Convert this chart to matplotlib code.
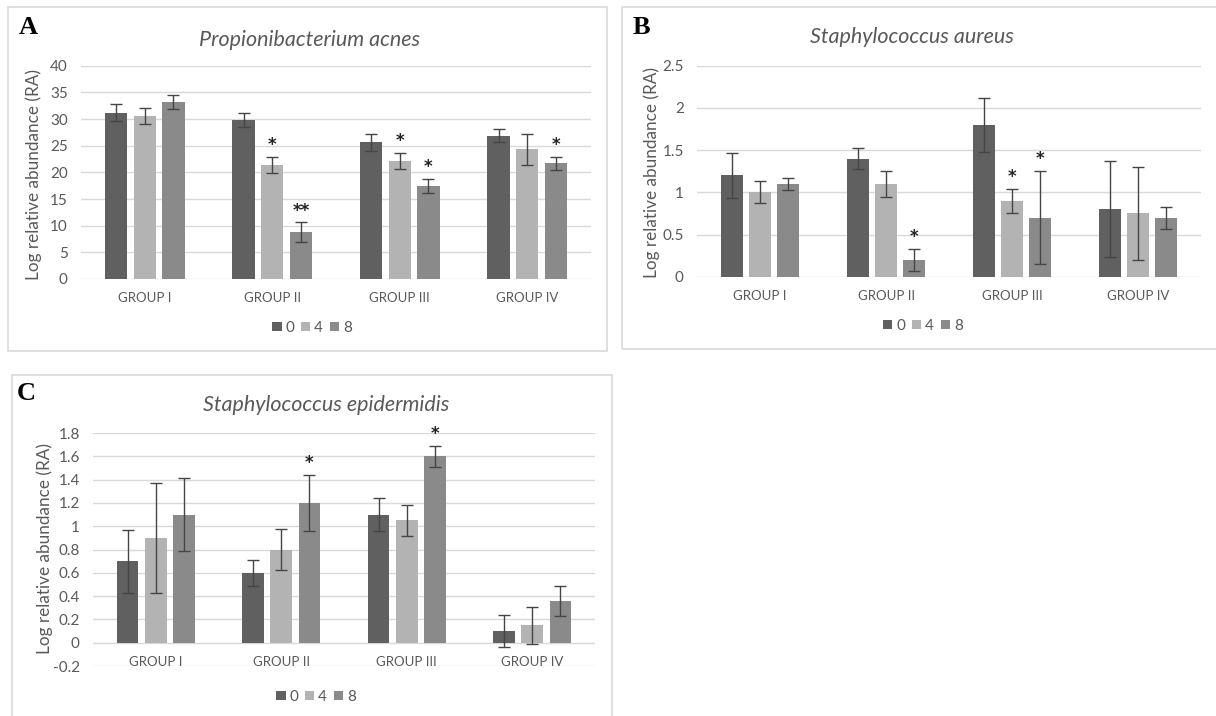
#!/usr/bin/env python3
# -*- coding: utf-8 -*-

import matplotlib
matplotlib.use('Agg')
import matplotlib.pyplot as plt
from matplotlib.patches import Rectangle, Patch
import numpy as np

plt.rcParams['font.family'] = ['Lato', 'DejaVu Sans']

W, H = 1216, 716

groups = ['GROUP I', 'GROUP II', 'GROUP III', 'GROUP IV']
weeks = ['0', '4', '8']

# Propionibacterium acnes, one row per week (0, 4, 8)
acnes_mean = [[31.2, 29.8, 25.6, 26.9],
              [30.6, 21.4, 22.2, 24.3],
              [33.2, 8.8, 17.5, 21.7]]
acnes_err = [[1.6, 1.3, 1.6, 1.2],
             [1.5, 1.5, 1.5, 2.9],
             [1.3, 1.8, 1.3, 1.2]]
acnes_sig = [['', '', '', ''],
             ['', '*', '*', ''],
             ['', '**', '*', '*']]

# Staphylococcus aureus
aureus_mean = [[1.2, 1.4, 1.8, 0.8],
               [1.0, 1.1, 0.9, 0.75],
               [1.1, 0.2, 0.7, 0.7]]
aureus_err = [[0.27, 0.12, 0.32, 0.57],
              [0.13, 0.15, 0.14, 0.55],
              [0.07, 0.13, 0.55, 0.13]]
aureus_sig = [['', '', '', ''],
              ['', '', '*', ''],
              ['', '*', '*', '']]

# Staphylococcus epidermidis
epi_mean = [[0.7, 0.6, 1.1, 0.1],
            [0.9, 0.8, 1.05, 0.15],
            [1.1, 1.2, 1.6, 0.36]]
epi_err = [[0.27, 0.11, 0.14, 0.14],
           [0.47, 0.18, 0.13, 0.16],
           [0.31, 0.24, 0.09, 0.13]]
epi_sig = [['', '', '', ''],
           ['', '', '', ''],
           ['', '*', '*', '']]

colors = ['#606060', '#b3b3b3', '#8a8a8a']
txt_col = '#595959'
grid_col = '#d9d9d9'


def fx(x):
    return x / W


def fy(y):
    return 1 - y / H


def add_axes(fig, x0, x1, ytop, ybot):
    return fig.add_axes([fx(x0), fy(ybot), fx(x1 - x0), (ybot - ytop) / H])


def plot_panel(ax, mean, err, sig, ylim, step):
    x = np.arange(len(groups))
    for i in range(len(weeks)):
        pos = x + (i - 1) * 0.225
        ax.bar(pos, mean[i], width=0.175, color=colors[i], zorder=2)
        ax.errorbar(pos, mean[i], yerr=err[i], fmt='none', ecolor='#454545',
                    elinewidth=1.0, capsize=4, capthick=1.0, zorder=3)
        for p, m, e, s in zip(pos, mean[i], err[i], sig[i]):
            if s:
                ax.annotate(s, (p, m + e), xytext=(0, 2),
                            textcoords='offset points', ha='center',
                            va='bottom', fontsize=12, fontweight='bold',
                            family='DejaVu Sans', color='#222222')
    for j, g in enumerate(groups):
        ax.annotate(g, (j, 0), xytext=(0, -13.7), textcoords='offset points',
                    ha='center', va='center', fontsize=9.5, color=txt_col)
    ax.set_xlim(-0.5, len(groups) - 0.5)
    ax.set_ylim(*ylim)
    ticks = np.arange(ylim[0], ylim[1] + step / 2, step)
    ax.set_yticks(ticks)
    ax.set_yticklabels(['%g' % round(t, 2) for t in ticks])
    ax.set_xticks([])
    ax.tick_params(axis='y', length=0, pad=9.5, labelsize=11, labelcolor=txt_col)
    ax.grid(axis='y', color=grid_col, lw=1, zorder=0)
    ax.set_axisbelow(True)
    for sp in ax.spines.values():
        sp.set_visible(False)


fig = plt.figure(figsize=(W / 100, H / 100), dpi=100)

# panel frames
for (x0, y0, x1, y1) in [(8, 7, 607, 351), (622, 7, 1222, 349), (12, 375, 612, 722)]:
    fig.patches.append(Rectangle((fx(x0), fy(y1)), fx(x1 - x0), (y1 - y0) / H,
                                 transform=fig.transFigure, fill=False,
                                 edgecolor='#d9d9d9', lw=1.2))

panels = [
    ('A', 'Propionibacterium acnes', acnes_mean, acnes_err, acnes_sig,
     (0, 40), 5, (81, 591, 65.7, 279), (28, 28), (310, 40), (34, 174), (312, 328)),
    ('B', 'Staphylococcus aureus', aureus_mean, aureus_err, aureus_sig,
     (0, 2.5), 0.5, (697, 1201, 65.7, 276.7), (641, 27), (912, 37), (652, 173), (923, 326)),
    ('C', 'Staphylococcus epidermidis', epi_mean, epi_err, epi_sig,
     (-0.2, 1.8), 0.2, (93, 595, 433, 666), (26, 394), (326, 405), (45, 549), (316, 697)),
]

handles = [Patch(facecolor=c, edgecolor='none') for c in colors]

for (letter, title, mean, err, sig, ylim, step, box, lpos, tpos, ypos, legpos) in panels:
    ax = add_axes(fig, *box)
    plot_panel(ax, mean, err, sig, ylim, step)
    fig.text(fx(lpos[0]), fy(lpos[1]), letter, ha='center', va='center',
             fontsize=19, fontweight='bold', family='Liberation Serif')
    fig.text(fx(tpos[0]), fy(tpos[1]), title, ha='center', va='center',
             fontsize=15.5, style='italic', color=txt_col)
    fig.text(fx(ypos[0]), fy(ypos[1]), 'Log relative abundance (RA)',
             rotation=90, ha='center', va='center', fontsize=12.3, color=txt_col)
    fig.legend(handles, weeks, loc='center',
               bbox_to_anchor=(fx(legpos[0]), fy(legpos[1])), ncol=3,
               frameon=False, handlelength=0.6, handleheight=0.6,
               handletextpad=0.25, columnspacing=0.45, fontsize=11,
               labelcolor=txt_col)

fig.savefig('out.png', dpi=100)
